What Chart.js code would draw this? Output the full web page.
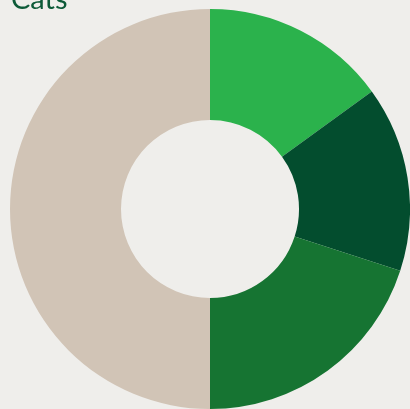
<!DOCTYPE html>
<html>
<head>
<meta charset="utf-8">
<script src="https://cdn.jsdelivr.net/npm/chart.js@4"></script>
<style>
  html, body { margin: 0; padding: 0; background: #efeeeb; }
  #wrap { position: relative; width: 410px; height: 409px; overflow: hidden; }
  #title { position: absolute; left: 11px; top: -20px; font: 29px 'Lato', sans-serif; color: #0d5a38; }
</style>
</head>
<body>
<div id="wrap">
  <canvas id="chartCats" width="410" height="409"></canvas>
  <div id="title">Cats</div>
</div>
<script>
// datos del donut
const labels = ['A', 'B', 'C', 'D'];
const values = [15, 15, 20, 50];
const colors = ['#2bb24c', '#034d2e', '#167432', '#d1c4b6'];

new Chart(document.getElementById('chartCats'), {
  type: 'doughnut',
  data: {
    labels,
    datasets: [{ data: values, backgroundColor: colors, borderWidth: 0 }]
  },
  options: {
    responsive: false, animation: false,
    cutout: '44.5%',
    layout: { padding: { top: 9, bottom: 0, left: 10, right: 0 } },
    plugins: { legend: { display: false }, tooltip: { enabled: false } }
  }
});
</script>
</body>
</html>
